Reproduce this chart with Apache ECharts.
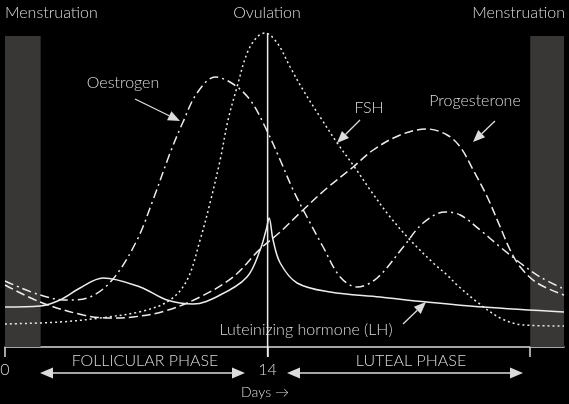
<!DOCTYPE html>
<html>
<head>
<meta charset="utf-8">
<style>
  html, body { margin: 0; padding: 0; background: #000; }
  #chart { width: 569px; height: 404px; }
</style>
<script src="https://cdn.jsdelivr.net/npm/echarts@6/dist/echarts.min.js"></script>
</head>
<body>
<div id="chart"></div>
<script>
// Hormone levels over the menstrual cycle (arbitrary units), [day, level]
const oestrogen = [
  [0, 66], [1.87, 52], [3.31, 47], [4.53, 50], [5.76, 68], [7.04, 107], [7.89, 147],
  [8.8, 194], [9.49, 225], [10.24, 254], [11.2, 270], [12.16, 263], [13.07, 247],
  [13.87, 220], [14.67, 187], [15.36, 157], [16.1, 130], [16.96, 100], [17.87, 70],
  [18.77, 60], [19.84, 69], [21.23, 100], [22.29, 124], [23.47, 135], [24.27, 132],
  [25.33, 117], [26.4, 100], [27.47, 84], [28.53, 70], [29.8, 58]
];
const fsh = [
  [0, 23], [2.93, 25], [5.07, 29], [7.36, 36], [8.8, 47], [9.71, 67], [10.4, 107],
  [10.93, 144], [11.47, 187], [11.89, 227], [12.37, 260], [12.91, 294], [13.44, 310],
  [13.87, 314], [14.51, 304], [15.2, 280], [15.89, 257], [16.8, 230], [17.71, 204],
  [18.67, 179], [19.47, 157], [20.53, 130], [21.6, 107], [22.83, 84], [23.57, 72],
  [24.1, 62], [25.17, 45], [26.4, 29], [27.63, 22], [29.8, 21]
];
const progesterone = [
  [0, 62], [1.87, 45], [4.16, 32], [5.6, 29], [6.83, 30], [8.53, 36], [10.4, 50],
  [12.16, 70], [13.6, 98], [14.67, 115], [15.89, 137], [17.17, 159], [18.56, 180],
  [19.63, 197], [21.07, 212], [22.51, 218], [23.57, 212], [24.27, 200], [24.96, 177],
  [25.71, 150], [26.4, 120], [26.93, 97], [27.47, 80], [28.37, 64], [29.8, 52]
];
const lh = [
  [0, 40], [1.87, 41], [2.93, 47], [4.0, 59], [5.23, 69], [7.2, 60], [8.64, 47],
  [10.03, 43], [11.47, 52], [12.9, 70], [13.6, 97], [13.92, 117], [14.08, 129],
  [14.29, 107], [14.67, 84], [15.57, 64], [17.33, 55], [20.0, 50], [22.5, 45],
  [25.5, 40], [29.8, 35]
];

// Menstruation periods (start day, end day) and band height
const menstruation = [[0, 1.9], [28, 29.8]];
const bandTop = 311;
// Ovulation marker line, from the FSH peak down past the axis
const ovulationLine = [[14, 314], [14, -10]];

const tickDays = [0, 14, 28];
const labelDays = [0, 14];

const ink = '#ececec';
const textInk = '#dcdcdc';
const font = 'Lato, "Open Sans", sans-serif';

function curve(name, data, type) {
  return {
    name: name,
    type: 'line',
    data: data,
    smooth: 0.35,
    showSymbol: false,
    symbol: 'none',
    lineStyle: { color: ink, width: 1.5, type: type },
    silent: true
  };
}

// Annotation arrow: shaft from (x1,y1) to tip (x2,y2) with a filled head
function arrow(x1, y1, x2, y2, headLen, headHalf) {
  const dx = x2 - x1, dy = y2 - y1;
  const len = Math.sqrt(dx * dx + dy * dy);
  const ux = dx / len, uy = dy / len;
  const bx = x2 - ux * headLen, by = y2 - uy * headLen;
  return [
    { type: 'line', shape: { x1: x1, y1: y1, x2: bx, y2: by },
      style: { stroke: textInk, lineWidth: 1.3 } },
    { type: 'polygon',
      shape: { points: [[x2, y2], [bx - uy * headHalf, by + ux * headHalf], [bx + uy * headHalf, by - ux * headHalf]] },
      style: { fill: textInk } }
  ];
}

function text(str, x, y, size, align) {
  return {
    type: 'text', x: x, y: y,
    style: { text: str, fill: textInk, font: '300 ' + size + 'px ' + font,
      align: align || 'center', verticalAlign: 'middle' }
  };
}

const graphics = [
  text('Menstruation', 5, 13, 16, 'left'),
  text('Ovulation', 267, 13, 16),
  text('Menstruation', 565, 13, 16, 'right'),
  text('Oestrogen', 123, 83, 16),
  text('FSH', 369, 108, 16),
  text('Progesterone', 475, 101, 16),
  text('Luteinizing hormone (LH)', 306, 330, 16),
  text('FOLLICULAR PHASE', 145, 361, 16),
  text('LUTEAL PHASE', 411, 361, 16),
  text('Days \u2192', 265, 392, 14)
].concat(
  arrow(135, 99, 180, 121, 12, 5),
  arrow(360, 120, 337, 143, 12, 5),
  arrow(495, 121, 473, 142, 12, 5),
  arrow(403, 324, 426, 302, 12, 5),
  // phase spans
  arrow(144, 373, 40, 373, 13, 5.5),
  arrow(144, 373, 245, 373, 13, 5.5),
  arrow(405, 373, 287, 373, 13, 5.5),
  arrow(405, 373, 523, 373, 13, 5.5)
);

const chart = echarts.init(document.getElementById('chart'), null, { renderer: 'canvas' });
chart.setOption({
  backgroundColor: '#000',
  animation: false,
  grid: { left: 5, right: 5, top: 17, bottom: 57, containLabel: false, outerBoundsMode: 'none' },
  xAxis: {
    type: 'value', min: 0, max: 29.8,
    axisLine: { show: true, lineStyle: { color: textInk, width: 1.5 } },
    axisTick: { show: true, customValues: tickDays, length: 10, lineStyle: { color: textInk, width: 1.5 } },
    axisLabel: { show: true, customValues: labelDays, color: textInk, fontSize: 16,
      fontFamily: font, fontWeight: 300, margin: 15 },
    splitLine: { show: false }
  },
  yAxis: { type: 'value', min: 0, max: 330, show: false, splitLine: { show: false } },
  series: [
    {
      name: 'Menstruation', type: 'line', data: [], silent: true,
      markArea: {
        silent: true,
        itemStyle: { color: '#393735' },
        data: menstruation.map(p => [{ coord: [p[0], 0] }, { coord: [p[1], bandTop] }])
      }
    },
    {
      name: 'Ovulation', type: 'line', data: ovulationLine, clip: false, silent: true,
      symbol: 'none', lineStyle: { color: ink, width: 1.5 }
    },
    curve('Oestrogen', oestrogen, [9, 4, 2, 4]),
    curve('FSH', fsh, [2, 3]),
    curve('Progesterone', progesterone, [9, 4]),
    curve('Luteinizing hormone (LH)', lh, 'solid')
  ],
  graphic: graphics
});
</script>
</body>
</html>
